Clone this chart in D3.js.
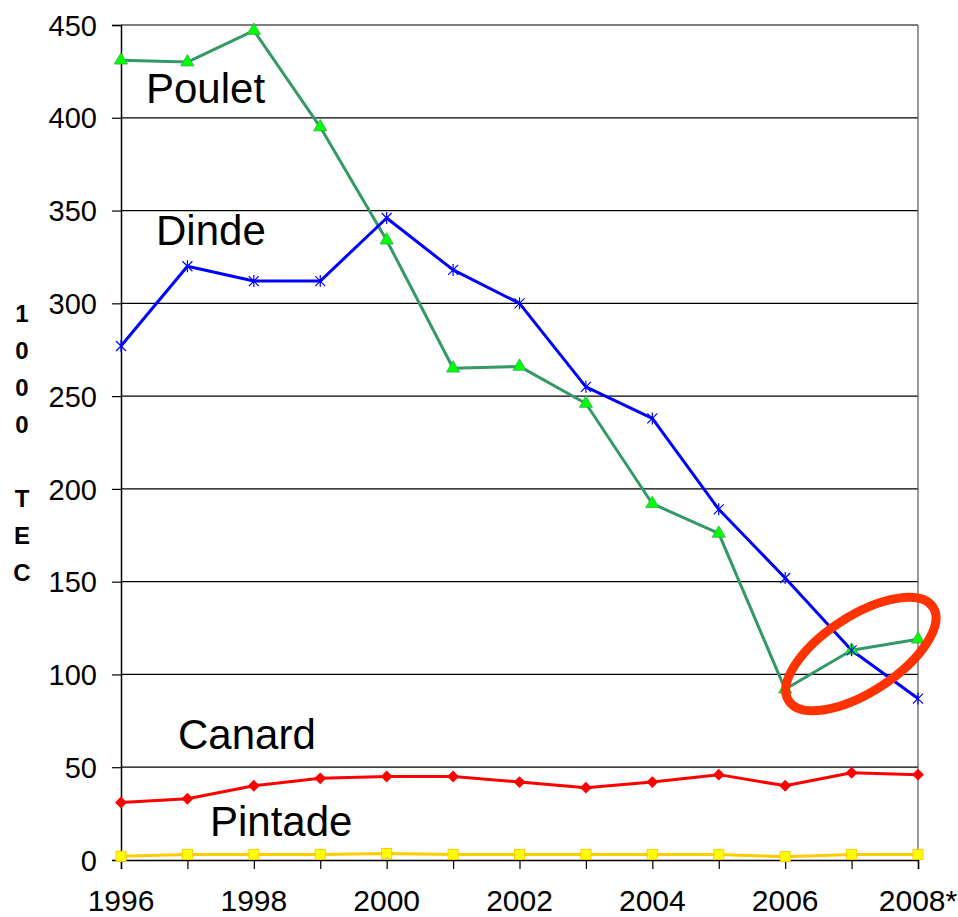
<!DOCTYPE html>
<html>
<head>
<meta charset="utf-8">
<script src="https://cdn.jsdelivr.net/npm/d3@7"></script>
<style>
  body { margin: 0; background: #fff; }
  svg { display: block; font-family: "Liberation Sans", Arial, sans-serif; }
</style>
</head>
<body>
<svg id="svg"></svg>
<script>
// data (1000 TEC)
let years = [1996, 1997, 1998, 1999, 2000, 2001, 2002, 2003, 2004, 2005, 2006, 2007, 2008];
let yearLabels = ["1996", "1998", "2000", "2002", "2004", "2006", "2008*"];
let poulet = [431, 430, 447, 395, 334, 265, 266, 246, 192, 176, 92, 113, 119];
let dinde = [277, 320, 312, 312, 346, 318, 300, 255, 238, 189, 152, 113, 87];
let canard = [31, 33, 40, 44, 45, 45, 42, 39, 42, 46, 40, 47, 46];
let pintade = [2, 3, 3, 3, 3.5, 3, 3, 3, 3, 3, 1.8, 3, 3];
let yTicks = [0, 50, 100, 150, 200, 250, 300, 350, 400, 450];

const width = 958;
const height = 917;

let svg = d3.select("#svg").attr("width", width).attr("height", height);

let xScale = d3.scaleLinear().domain([1996, 2008]).range([121, 918]);
let yScale = d3.scaleLinear().domain([0, 450]).range([860, 25]);

// gridlines
svg.append("g")
    .selectAll("line")
    .data(yTicks.filter(d => d > 0))
    .join("line")
    .attr("x1", xScale(1996))
    .attr("x2", xScale(2008))
    .attr("y1", d => yScale(d))
    .attr("y2", d => yScale(d))
    .attr("stroke", "#000")
    .attr("stroke-width", 1.2);

// right border
svg.append("line")
    .attr("x1", xScale(2008)).attr("x2", xScale(2008))
    .attr("y1", yScale(450)).attr("y2", yScale(0))
    .attr("stroke", "#555").attr("stroke-width", 1.2);

// y axis
let yAxis = svg.append("g")
    .attr("transform", `translate(${xScale(1996)},0)`)
    .call(d3.axisLeft(yScale).tickValues(yTicks).tickSize(9).tickPadding(15).tickFormat(d3.format("d")));
yAxis.select(".domain").attr("stroke", "#000").attr("stroke-width", 1.5);
yAxis.selectAll(".tick line").attr("stroke", "#000").attr("stroke-width", 1.2);
yAxis.selectAll("text").style("font-size", "29px").attr("fill", "#000").attr("dy", "0.35em");

// x axis
let xAxis = svg.append("g")
    .attr("transform", `translate(0,${yScale(0)})`)
    .call(d3.axisBottom(xScale).tickValues(years).tickSize(9).tickFormat(""));
xAxis.select(".domain").attr("stroke", "#000").attr("stroke-width", 1.5);
xAxis.selectAll(".tick line").attr("stroke", "#000").attr("stroke-width", 1.2);

svg.append("g")
    .selectAll("text")
    .data(yearLabels)
    .join("text")
    .attr("x", (d, i) => xScale(1996 + i * 2))
    .attr("y", 911)
    .attr("text-anchor", "middle")
    .style("font-size", "30px")
    .text(d => d);

// y axis title, stacked letters
let titleChars = ["1", "0", "0", "0", "", "T", "E", "C"];
svg.append("g")
    .selectAll("text")
    .data(titleChars)
    .join("text")
    .attr("x", 22)
    .attr("y", (d, i) => 322 + i * 37)
    .attr("text-anchor", "middle")
    .style("font-size", "24px")
    .style("font-weight", "bold")
    .text(d => d);

let line = d3.line()
    .x((d, i) => xScale(years[i]))
    .y(d => yScale(d));

function drawSeries(values, color, width) {
    svg.append("path")
        .datum(values)
        .attr("d", line)
        .attr("fill", "none")
        .attr("stroke", color)
        .attr("stroke-width", width)
        .attr("stroke-linejoin", "round");
}

drawSeries(pintade, "#ffcc00", 3);
drawSeries(canard, "#ff0000", 3);
drawSeries(poulet, "#339966", 3);
drawSeries(dinde, "#0000ff", 3);

// markers
svg.append("g").selectAll("rect")
    .data(pintade)
    .join("rect")
    .attr("x", (d, i) => xScale(years[i]) - 5)
    .attr("y", d => yScale(d) - 5)
    .attr("width", 10).attr("height", 10)
    .attr("fill", "#ffff00").attr("stroke", "#ffcc00").attr("stroke-width", 1);

svg.append("g").selectAll("path")
    .data(canard)
    .join("path")
    .attr("transform", (d, i) => `translate(${xScale(years[i])},${yScale(d)})`)
    .attr("d", d3.symbol(d3.symbolDiamond2, 90))
    .attr("fill", "#ff0000");

svg.append("g").selectAll("path")
    .data(poulet)
    .join("path")
    .attr("transform", (d, i) => `translate(${xScale(years[i])},${yScale(d)})`)
    .attr("d", d3.symbol(d3.symbolTriangle, 75))
    .attr("fill", "#00ff00").attr("stroke", "#33aa55").attr("stroke-width", 0.8);

svg.append("g").selectAll("path")
    .data(dinde)
    .join("path")
    .attr("transform", (d, i) => `translate(${xScale(years[i])},${yScale(d)})`)
    .attr("d", "M-5,-5L5,5M-5,5L5,-5M0,-6L0,6")
    .attr("fill", "none").attr("stroke", "#0000ff").attr("stroke-width", 1.2);

// series names
let names = [
    { text: "Poulet", x: 146, y: 103 },
    { text: "Dinde", x: 156, y: 245 },
    { text: "Canard", x: 178, y: 749 },
    { text: "Pintade", x: 210, y: 836 }
];
svg.append("g").selectAll("text")
    .data(names)
    .join("text")
    .attr("x", d => d.x)
    .attr("y", d => d.y)
    .style("font-size", "42px")
    .text(d => d.text);

// red highlight ellipse around 2006-2008
let ecx = xScale(2007.14);
let ecy = yScale(111);
svg.append("ellipse")
    .attr("cx", ecx)
    .attr("cy", ecy)
    .attr("rx", 86)
    .attr("ry", 38)
    .attr("transform", `rotate(-33, ${ecx}, ${ecy})`)
    .attr("fill", "none")
    .attr("stroke", "#ff3300")
    .attr("stroke-width", 9);
</script>
</body>
</html>
